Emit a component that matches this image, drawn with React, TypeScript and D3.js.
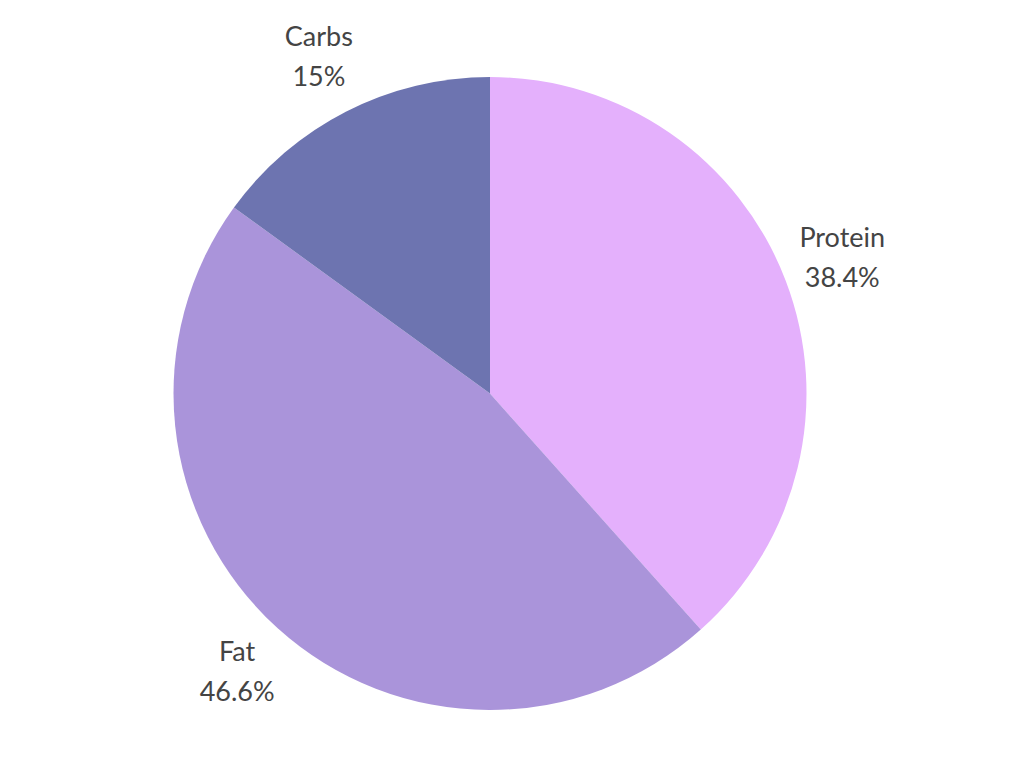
import * as d3 from "d3";

const labels = ["Protein", "Fat", "Carbs"];
const values = [38.4, 46.6, 15];
const colors = ["#e4b0fc", "#aa94da", "#6d74b0"];

export default function App() {
  const width = 1024;
  const height = 768;
  const cx = 490;
  const cy = 393.5;
  const radius = 316.5;
  const labelRadius = 377;

  const pie = d3
    .pie<number>()
    .sort(null)
    .value((d) => d);
  const arcs = pie(values);
  const arc = d3.arc<d3.PieArcDatum<number>>().innerRadius(0).outerRadius(radius);
  const labelArc = d3
    .arc<d3.PieArcDatum<number>>()
    .innerRadius(labelRadius)
    .outerRadius(labelRadius);

  return (
    <svg
      width={width}
      height={height}
      style={{ position: "absolute", left: 0, top: 0, background: "#fff" }}
    >
      <g transform={`translate(${cx},${cy})`}>
        {arcs.map((a, i) => (
          <path key={labels[i]} d={arc(a) || ""} fill={colors[i]} />
        ))}
        {arcs.map((a, i) => {
          const [x, y] = labelArc.centroid(a);
          return (
            <text
              key={labels[i]}
              textAnchor="middle"
              fill="#444"
              style={{ fontFamily: "Lato, 'Noto Sans', sans-serif", fontSize: 27 }}
            >
              <tspan x={x} y={y - 18.5} dominantBaseline="middle">
                {labels[i]}
              </tspan>
              <tspan x={x} y={y + 21.5} dominantBaseline="middle">
                {d3.format("~")(values[i])}%
              </tspan>
            </text>
          );
        })}
      </g>
    </svg>
  );
}
